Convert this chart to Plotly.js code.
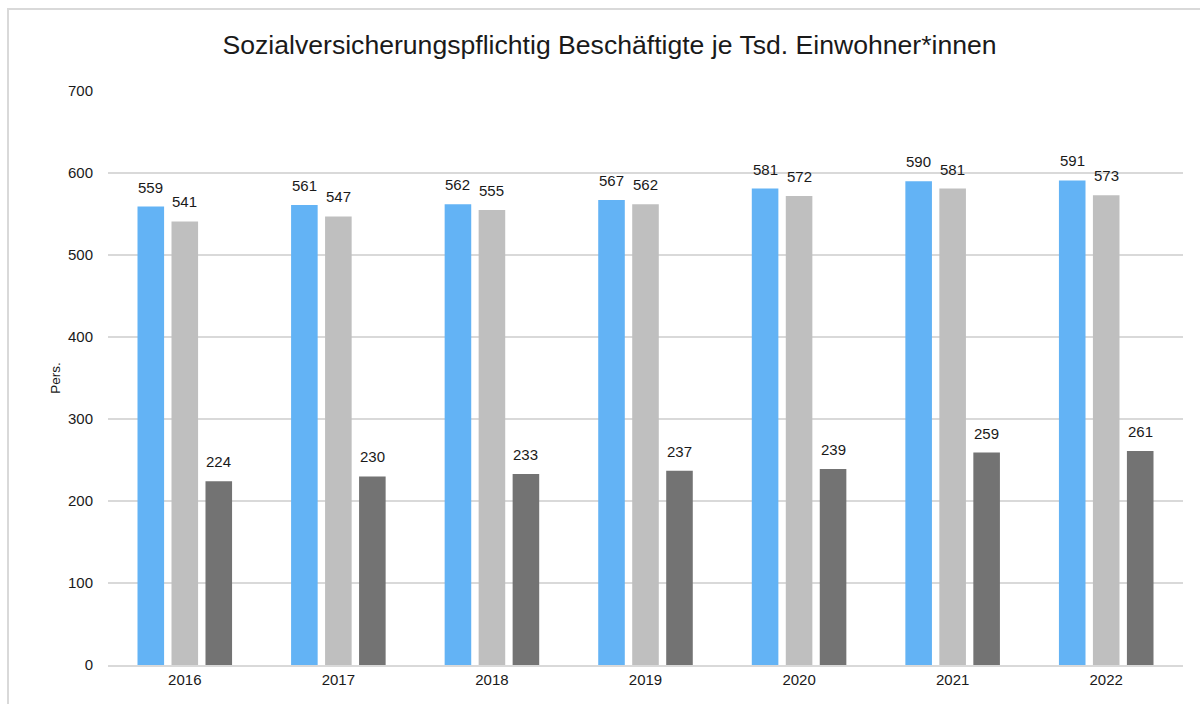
<!DOCTYPE html>
<html><head><meta charset="utf-8">
<script src="https://cdn.plot.ly/plotly-3.0.1.min.js"></script>
<style>
html,body{margin:0;padding:0;background:#fff;}
#wrap{position:relative;width:1200px;height:704px;overflow:hidden;}
#chart{position:absolute;left:0;top:0;width:1200px;height:704px;}
#frame{position:absolute;left:7px;top:8px;width:1200px;height:720px;border:2px solid #d9d9d9;pointer-events:none;box-sizing:border-box;}
</style></head>
<body><div id="wrap"><div id="chart"></div><div id="frame"></div></div>
<script>
const years = ['2016','2017','2018','2019','2020','2021','2022'];
const seriesA = [559, 561, 562, 567, 581, 590, 591];
const seriesB = [541, 547, 555, 562, 572, 581, 573];
const seriesC = [224, 230, 233, 237, 239, 259, 261];
const colors = ['#63b3f5', '#bfbfbf', '#737373'];
const seriesList = [seriesA, seriesB, seriesC];

const traces = seriesList.map((s, i) => ({
  type: 'bar', x: years, y: s, marker: {color: colors[i]},
  name: 'Reihe ' + (i + 1), hoverinfo: 'x+y', cliponaxis: false
}));

// slot width in px for offsets of labels
const plotW = 1200 - 108 - 17;
const catW = plotW / years.length;
const bargap = 0.336;
const slot = catW * (1 - bargap) / 3;

const annotations = [];
seriesList.forEach((s, i) => {
  s.forEach((v, j) => {
    annotations.push({
      x: j, y: v, xref: 'x', yref: 'y', text: String(v),
      showarrow: false, xanchor: 'center', yanchor: 'bottom',
      xshift: (i - 1) * slot, yshift: 9,
      font: {family: 'Liberation Sans, Arial, sans-serif', size: 15, color: '#1a1a1a'}
    });
  });
});

const layout = {
  width: 1200, height: 704,
  margin: {l: 108, r: 17, t: 91, b: 39},
  paper_bgcolor: '#ffffff', plot_bgcolor: '#ffffff',
  showlegend: false,
  barmode: 'group', bargap: bargap, bargroupgap: 0.218,
  title: {text: 'Sozialversicherungspflichtig Beschäftigte je Tsd. Einwohner*innen',
    x: 0.508, xanchor: 'center', y: 0.937, yanchor: 'middle',
    font: {family: 'Liberation Sans, Arial, sans-serif', size: 26.6, color: '#1a1a1a'}},
  font: {family: 'Liberation Sans, Arial, sans-serif', color: '#1a1a1a'},
  xaxis: {
    type: 'category', range: [-0.5, years.length - 0.5], autorange: false,
    showgrid: false, zeroline: false,
    showline: true, linecolor: '#d9d9d9', linewidth: 2,
    ticks: '', tickfont: {size: 15, color: '#1a1a1a'}
  },
  yaxis: {
    range: [0, 700], autorange: false, dtick: 100, tick0: 0,
    showgrid: true, gridcolor: '#d9d9d9', gridwidth: 2,
    zeroline: false, showline: false, ticks: '',
    tickfont: {size: 15, color: '#1a1a1a'}, ticklabelstandoff: 14,
    title: {text: 'Pers.', standoff: 4, font: {size: 13.5, color: '#1a1a1a'}}
  },
  annotations: annotations
};

Plotly.newPlot('chart', traces, layout, {displayModeBar: false, staticPlot: true});
</script></body></html>
